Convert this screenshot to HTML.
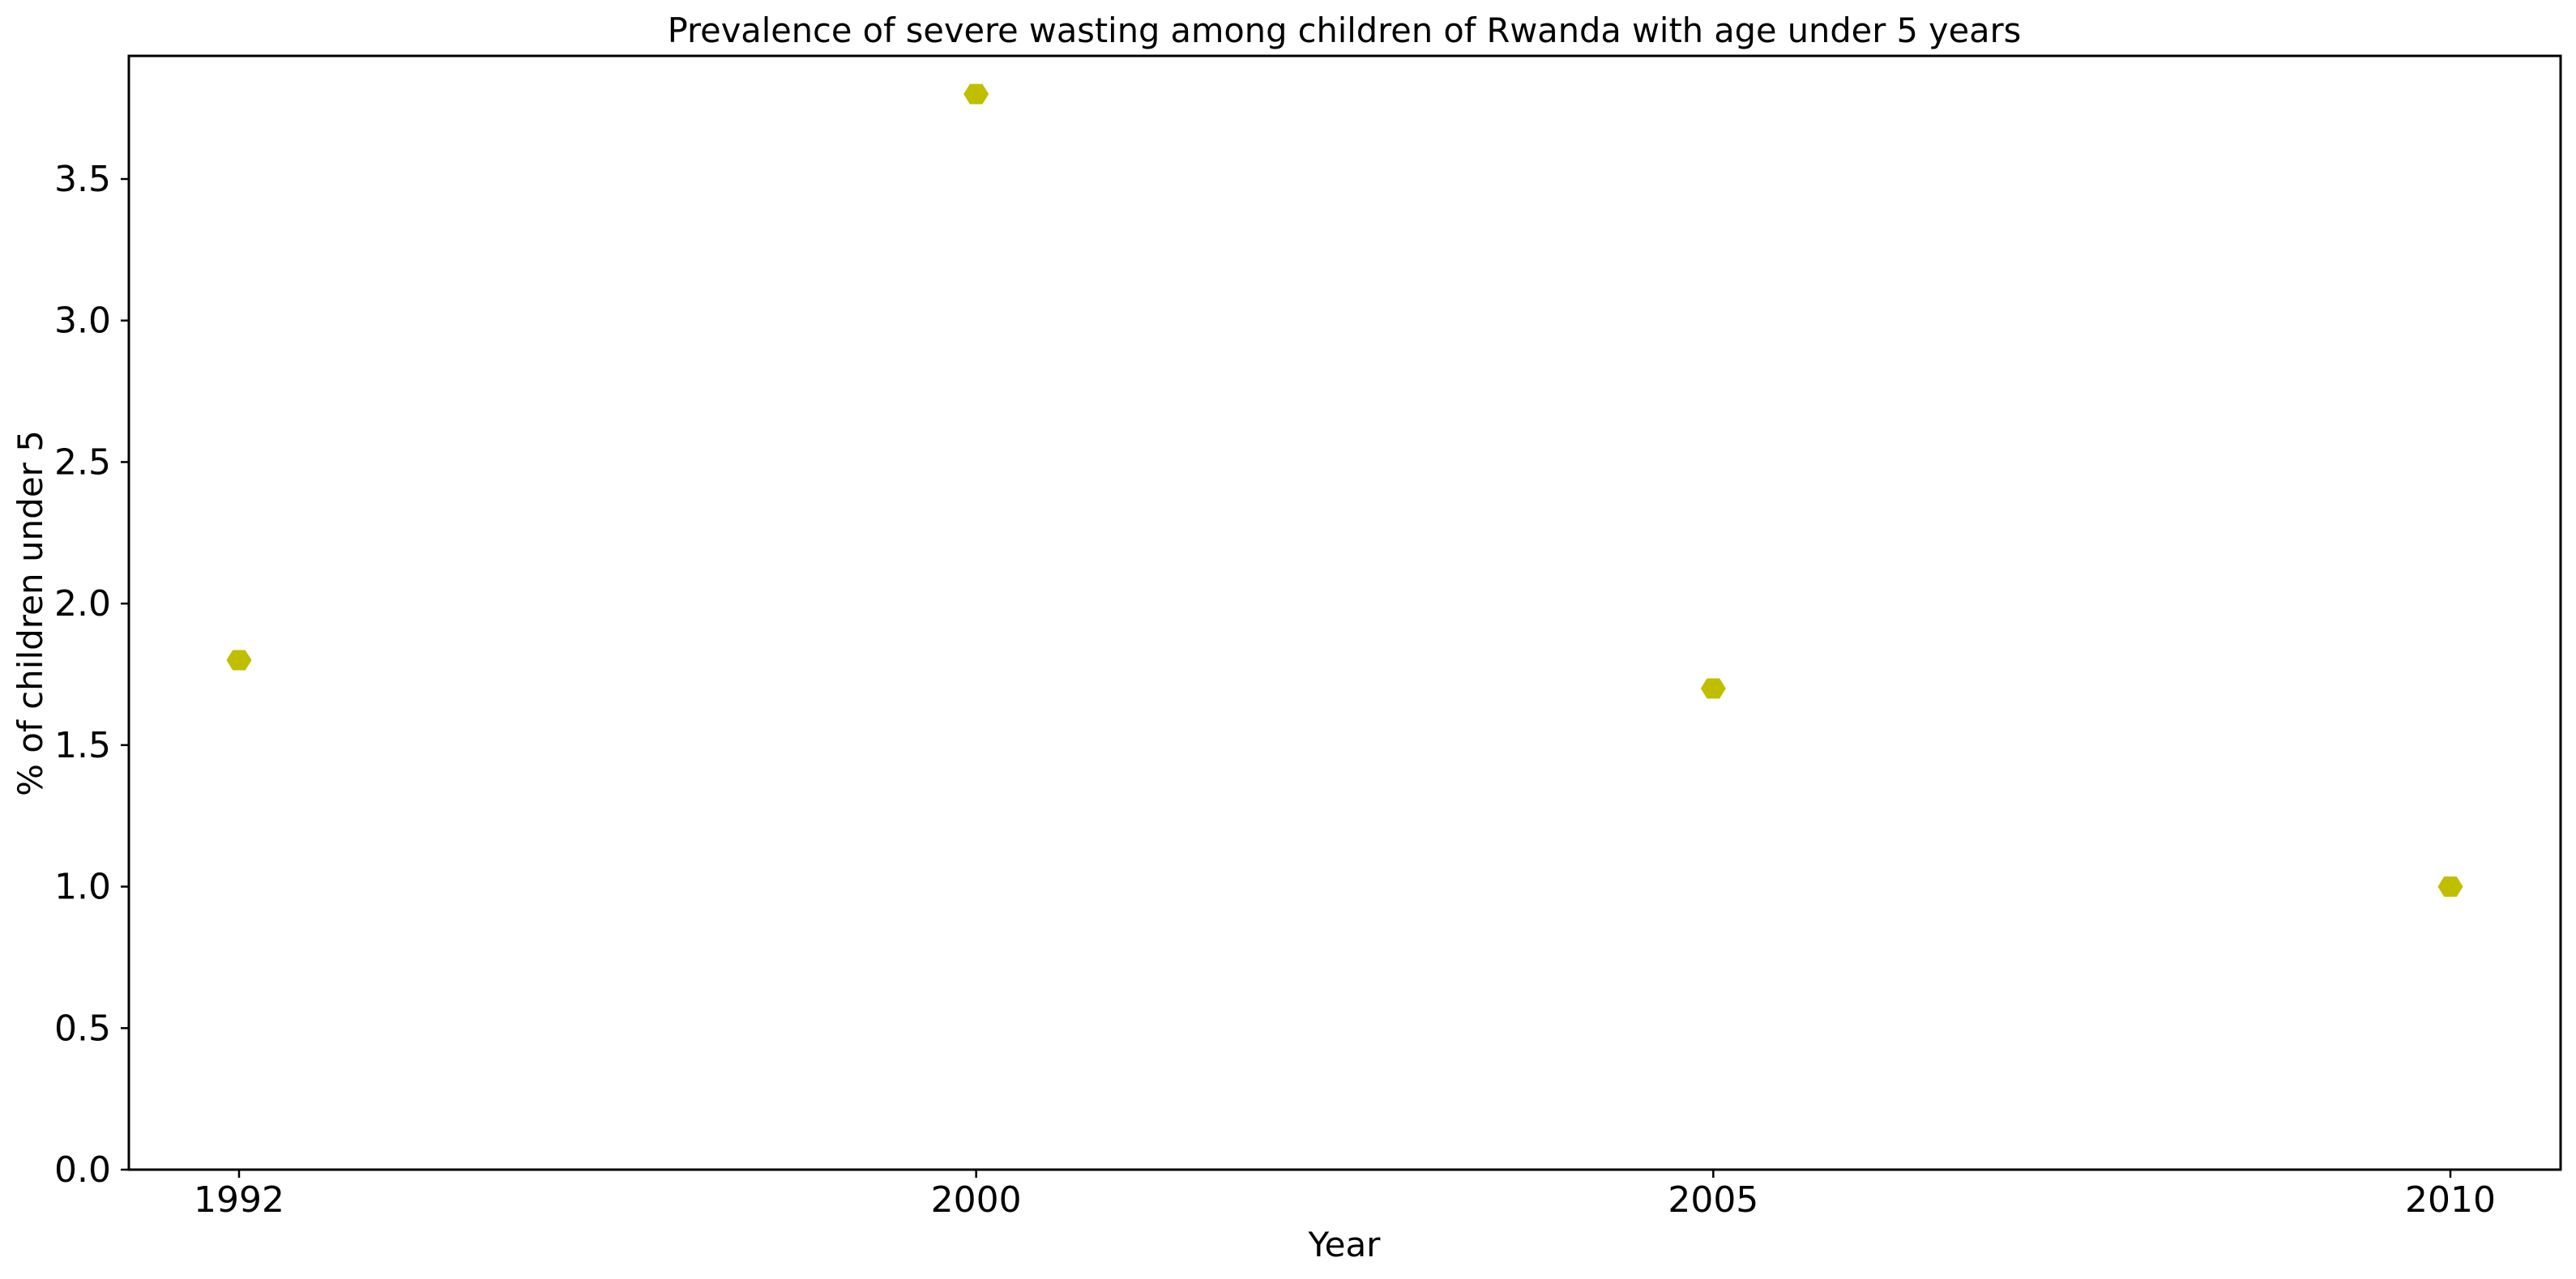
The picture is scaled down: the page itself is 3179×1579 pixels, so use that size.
<!DOCTYPE html>
<html><head><meta charset="utf-8"><style>html,body{margin:0;padding:0;background:#fff}svg{display:block}text{font-family:"DejaVu Sans","Liberation Sans",sans-serif;fill:#000}</style></head>
<body>
<svg id="chart" width="3179" height="1579" viewBox="0 0 3179 1579" xmlns="http://www.w3.org/2000/svg">
<rect x="0" y="0" width="3179" height="1579" fill="#fff"/>
<text x="1659" y="52" font-size="41.5" text-anchor="middle">Prevalence of severe wasting among children of Rwanda with age under 5 years</text>
<text x="1659" y="1551" font-size="42" text-anchor="middle">Year</text>
<text transform="translate(52,757) rotate(-90)" font-size="42" text-anchor="middle">% of children under 5</text>
<g id="ticks"></g>
<g id="marks"></g>
<rect x="159" y="69" width="3001" height="1375" fill="none" stroke="#000" stroke-width="3"/>
</svg>
<script>
const categories = ["1992", "2000", "2005", "2010"];
const values = [1.8, 3.8, 1.7, 1.0];
const yTicks = [0, 0.5, 1.0, 1.5, 2.0, 2.5, 3.0, 3.5];
const yTickLabels = ["0.0", "0.5", "1.0", "1.5", "2.0", "2.5", "3.0", "3.5"];

const NS = "http://www.w3.org/2000/svg";
const plotLeft = 159, plotTop = 69, plotBottom = 1444;
const yMax = 3.935;
function xPos(i) { return 295 + i * (3024 - 295) / 3; }
function yPos(v) { return plotBottom - v / yMax * (plotBottom - plotTop); }
const ticksG = document.getElementById('ticks');
const marksG = document.getElementById('marks');
function mk(tag, attrs) { const e = document.createElementNS(NS, tag); for (const k in attrs) e.setAttribute(k, attrs[k]); return e; }
yTicks.forEach((v, i) => {
  const y = yPos(v);
  const l = mk('line', {x1: plotLeft - 10, x2: plotLeft, y1: y, y2: y, stroke: '#000', 'stroke-width': 2.5});
  
  
  ticksG.appendChild(l);
  const t = mk('text', {x: plotLeft - 22, y: y + 15, 'font-size': 44, 'text-anchor': 'end'});
  t.textContent = yTickLabels[i];
  
  
  ticksG.appendChild(t);
});
categories.forEach((c, i) => {
  const x = xPos(i);
  const l = mk('line', {x1: x, x2: x, y1: plotBottom, y2: plotBottom + 10, stroke: '#000', 'stroke-width': 2.5});
  
  
  ticksG.appendChild(l);
  const t = mk('text', {x: x, y: plotBottom + 52, 'font-size': 44, 'text-anchor': 'middle'});
  t.textContent = c;
  
  
  ticksG.appendChild(t);
});
values.forEach((v, i) => {
  const cx = xPos(i), cy = yPos(v), r = 15.5, h = 12.5;
  const pts = [[cx - r, cy], [cx - r / 2, cy - h], [cx + r / 2, cy - h], [cx + r, cy], [cx + r / 2, cy + h], [cx - r / 2, cy + h]].map(p => p.join(',')).join(' ');
  const p = mk('polygon', {points: pts, fill: '#bfbf00'});
  
  
  marksG.appendChild(p);
});
</script>
</body></html>
